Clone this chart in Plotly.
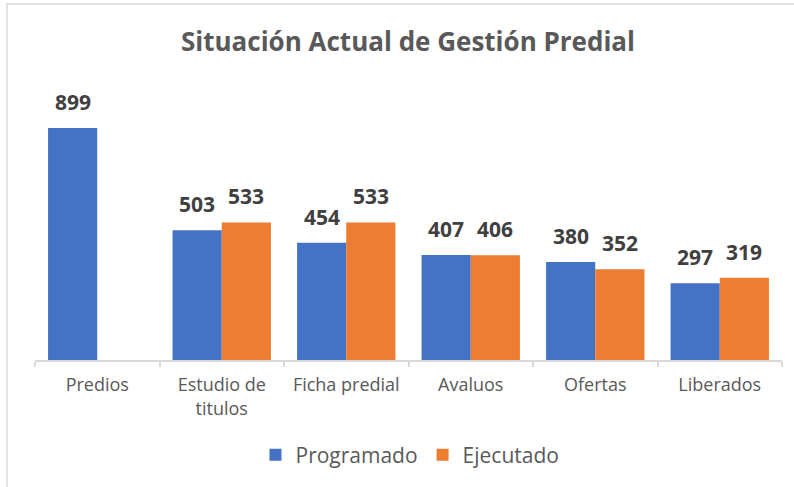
import plotly.graph_objects as go

categories = ["Predios", "Estudio de<br>titulos", "Ficha predial", "Avaluos", "Ofertas", "Liberados"]
programado = [899, 503, 454, 407, 380, 297]
ejecutado = [None, 533, 533, 406, 352, 319]

W, H = 794, 487
ml, mr, mt, mb = 35, 12, 102, 127
pw, ph = W - ml - mr, H - mt - mb
bargap = 0.21
bar_px = pw / len(categories) * (1 - bargap) / 2

fig = go.Figure()
fig.add_trace(go.Bar(
    x=categories, y=programado, name="Programado",
    marker=dict(color="#4472C4", line=dict(width=0)),
))
fig.add_trace(go.Bar(
    x=categories, y=ejecutado, name="Ejecutado",
    marker=dict(color="#ED7D31", line=dict(width=0)),
))

annotations = []
for series, shift in ((programado, -bar_px / 2), (ejecutado, bar_px / 2)):
    for cat, v in zip(categories, series):
        if v is None:
            continue
        annotations.append(dict(
            x=cat, y=v, xref="x", yref="y", text=f"<b>{v}</b>",
            showarrow=False, xanchor="center", yanchor="bottom",
            xshift=shift, yshift=10,
            font=dict(size=21, color="#404040", family="Open Sans"),
        ))

fig.update_layout(
    width=W, height=H,
    margin=dict(l=ml, r=mr, t=mt, b=mb),
    paper_bgcolor="white", plot_bgcolor="white",
    barmode="group", bargap=bargap, bargroupgap=0,
    title=dict(text="<b>Situación Actual de Gestión Predial</b>",
               x=408 / W, xanchor="center", y=1 - 42 / H, yanchor="middle",
               font=dict(size=26, color="#595959", family="Open Sans")),
    font=dict(family="Open Sans", color="#595959"),
    legend=dict(orientation="h", x=(410 - ml) / pw, xanchor="center",
                y=-(455 - (mt + ph)) / ph, yanchor="middle",
                font=dict(size=21, color="#595959"),
                itemwidth=30, traceorder="normal"),
    showlegend=True,
    annotations=annotations,
    shapes=[dict(type="rect", xref="paper", yref="paper",
                 x0=(7 - ml) / pw, x1=(W + 20 - ml) / pw,
                 y0=-(H + 20 - mt - ph) / ph, y1=(mt + ph - 4) / ph,
                 line=dict(color="#D9D9D9", width=1.5), layer="below")],
)
fig.update_xaxes(
    showline=True, linecolor="#D9D9D9", linewidth=1.5,
    ticks="outside", tickson="boundaries", ticklen=5, tickcolor="#D9D9D9",
    tickwidth=1.5,
    tickfont=dict(size=18, color="#595959"), ticklabelstandoff=8,
    showgrid=False,
)
fig.update_yaxes(range=[0, 1000], visible=False, showgrid=False, zeroline=False)

fig.write_html("out.html", config={"displayModeBar": False},
               post_script="document.body.style.margin='0px';")
